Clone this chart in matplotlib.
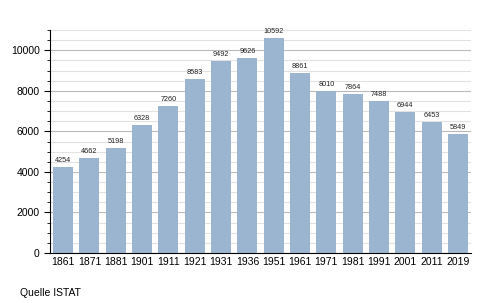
import matplotlib
matplotlib.use('Agg')
import matplotlib.pyplot as plt
from matplotlib.ticker import MultipleLocator

years = ['1861', '1871', '1881', '1901', '1911', '1921', '1931', '1936',
         '1951', '1961', '1971', '1981', '1991', '2001', '2011', '2019']
pop = [4254, 4662, 5198, 6328, 7260, 8583, 9492, 9626,
       10592, 8861, 8010, 7864, 7488, 6944, 6453, 5849]

plt.rcParams['font.family'] = ['Liberation Sans', 'DejaVu Sans']

fig = plt.figure(figsize=(5, 3.03), dpi=100)
ax = fig.add_axes([0.1, 0.165, 0.842, 0.736])

x = range(len(years))
ax.bar(x, pop, width=0.76, color='#9bb4d0', zorder=2)
for i, v in enumerate(pop):
    ax.text(i, v + 150, str(v), ha='center', va='bottom', fontsize=5.2, color='#222222')

ax.set_xlim(-0.5, len(years) - 0.5)
ax.set_ylim(0, 11000)
ax.set_xticks(list(x))
ax.set_xticklabels(years)
ax.yaxis.set_major_locator(MultipleLocator(2000))
ax.yaxis.set_minor_locator(MultipleLocator(500))
ax.grid(axis='y', which='major', color='#bbbbbb', lw=0.8, zorder=0)
ax.grid(axis='y', which='minor', color='#e2e2e2', lw=0.8, zorder=0)
ax.tick_params(axis='x', length=0, labelsize=7.5, pad=3)
ax.tick_params(axis='y', which='major', length=4, labelsize=7.5)
ax.tick_params(axis='y', which='minor', length=2)
for s in ['top', 'right']:
    ax.spines[s].set_visible(False)

fig.text(0.04, 0.033, 'Quelle ISTAT', fontsize=7.5, ha='left', va='center')

fig.savefig('out.png', dpi=100)
